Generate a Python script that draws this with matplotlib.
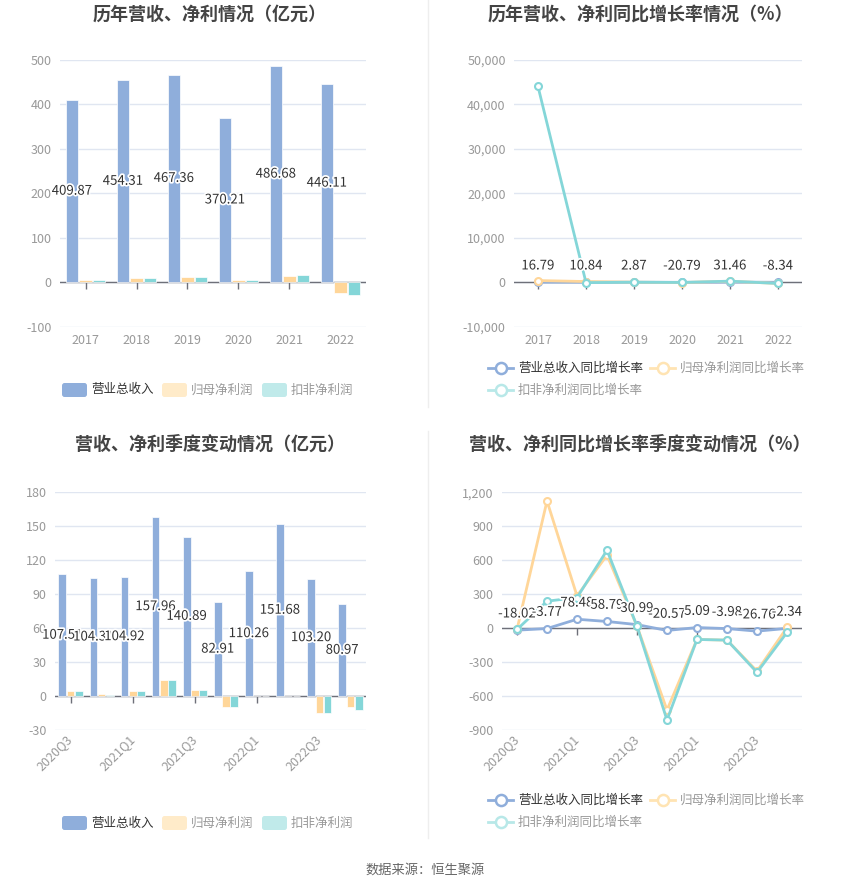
import numpy as np
import matplotlib.pyplot as plt
from matplotlib import patheffects
from matplotlib.patches import FancyBboxPatch
from matplotlib.lines import Line2D
from matplotlib.ticker import FuncFormatter

plt.rcParams['font.family'] = ['Noto Sans CJK SC', 'DejaVu Sans']

# annual data (亿元 / %)
years = ['2017', '2018', '2019', '2020', '2021', '2022']
revenue = [409.87, 454.31, 467.36, 370.21, 486.68, 446.11]
net_profit = [4.0, 10.5, 12.0, 4.5, 14.5, -25.0]
deducted = [4.5, 9.5, 11.5, 4.5, 15.5, -28.0]
revenue_yoy = [16.79, 10.84, 2.87, -20.79, 31.46, -8.34]
net_yoy = [380, 160, 15, -60, 220, -270]
deducted_yoy = [44050, -80, 10, -50, 250, -280]

# quarterly data
quarters = ['2020Q3', '2020Q4', '2021Q1', '2021Q2', '2021Q3',
            '2021Q4', '2022Q1', '2022Q2', '2022Q3', '2022Q4']
q_revenue = [107.51, 104.31, 104.92, 157.96, 140.89, 82.91, 110.26, 151.68, 103.20, 80.97]
q_net_profit = [4.4, 1.7, 4.6, 14.6, 5.5, -9.9, 0.2, 0.3, -14.6, -9.3]
q_deducted = [4.4, 1.2, 4.8, 14.6, 5.2, -9.3, 0.1, -0.3, -14.9, -12.5]
q_revenue_yoy = [-18.02, -3.77, 78.48, 58.79, 30.99, -20.57, 5.09, -3.98, -26.76, -2.34]
q_net_yoy = [-12, 1123, 285, 644, 18, -723, -100, -106, -380, 6]
q_deducted_yoy = [-12, 238, 270, 688, 18, -812, -100, -106, -391, -38]

BLUE = '#8FAEDB'
ORANGE = '#FFD699'
TEAL = '#84D6D8'
LIGHT_ORANGE = '#FFEBC9'
LIGHT_TEAL = '#C0EAEA'
GRID = '#E0E6F1'
AXIS = '#6E7079'

W, H = 850, 891
fig = plt.figure(figsize=(W / 100, H / 100), dpi=100)
fig.patch.set_facecolor('white')


def px_axes(left, top, right, bottom):
    return fig.add_axes([left / W, 1 - bottom / H, (right - left) / W, (bottom - top) / H])


def base_style(ax, n, ylim, yticks, fmt):
    ax.set_xlim(-0.5, n - 0.5)
    ax.set_ylim(ylim)
    ax.set_yticks(yticks)
    ax.yaxis.set_major_formatter(FuncFormatter(fmt))
    for s in ax.spines.values():
        s.set_visible(False)
    ax.grid(axis='y', color=GRID, lw=1)
    ax.set_axisbelow(True)
    ax.axhline(0, color=AXIS, lw=1, zorder=2)
    ax.tick_params(axis='y', length=0, pad=6, labelcolor='#999999', labelsize=9)
    ax.tick_params(axis='x', length=0, labelcolor='#999999', labelsize=9)


def zero_ticks(ax, positions):
    ax.plot(positions, np.zeros(len(positions)), ls='none', marker=3, ms=5,
            mec=AXIS, mew=1, zorder=2, clip_on=False)


stroke = [patheffects.withStroke(linewidth=2.5, foreground='white')]
thousands = lambda v, p: f'{int(v):,}'

# ---- panel 1: annual bars
ax1 = px_axes(60, 60, 366, 326.7)
x = np.arange(len(years))
off, bw = 0.265, 0.245
ax1.bar(x - off, revenue, bw, color=BLUE, ec='white', lw=0.5, zorder=3)
ax1.bar(x, net_profit, bw, color=ORANGE, ec='white', lw=0.5, zorder=3)
ax1.bar(x + off, deducted, bw, color=TEAL, ec='white', lw=0.5, zorder=3)
base_style(ax1, len(years), (-100, 500), np.arange(-100, 501, 100), thousands)
ax1.set_xticks(x, years)
ax1.tick_params(axis='x', pad=5)
zero_ticks(ax1, x)
for i, v in enumerate(revenue):
    ax1.text(i - off, v / 2, f'{v:.2f}', ha='center', va='center', fontsize=9.5,
             color='#333333', path_effects=stroke, zorder=5)

# ---- panel 2: annual growth lines
ax2 = px_axes(514, 60, 802, 326.7)
ax2.plot(x, revenue_yoy, color=BLUE, lw=2, marker='o', ms=5, mfc='white', mew=1.5, zorder=3)
ax2.plot(x, net_yoy, color=ORANGE, lw=2, marker='o', ms=5, mfc='white', mew=1.5, zorder=3)
ax2.plot(x, deducted_yoy, color=TEAL, lw=2, marker='o', ms=5, mfc='white', mew=1.5, zorder=4)
base_style(ax2, len(years), (-10000, 50000), np.arange(-10000, 50001, 10000), thousands)
ax2.set_xticks(x, years)
ax2.tick_params(axis='x', pad=5)
zero_ticks(ax2, x)
for i, v in enumerate(revenue_yoy):
    ax2.annotate(f'{v:.2f}', (i, v), xytext=(0, 7), textcoords='offset points',
                 ha='center', va='bottom', fontsize=9.5, color='#333333',
                 path_effects=stroke, zorder=5)

# ---- panel 3: quarterly bars
ax3 = px_axes(55, 492.3, 366, 730)
xq = np.arange(len(quarters))
ax3.bar(xq - off, q_revenue, bw, color=BLUE, ec='white', lw=0.5, zorder=3)
ax3.bar(xq, q_net_profit, bw, color=ORANGE, ec='white', lw=0.5, zorder=3)
ax3.bar(xq + off, q_deducted, bw, color=TEAL, ec='white', lw=0.5, zorder=3)
base_style(ax3, len(quarters), (-30, 180), np.arange(-30, 181, 30), thousands)
ax3.set_xticks(xq[::2], quarters[::2], rotation=45, ha='right', va='center',
               rotation_mode='anchor')
ax3.tick_params(axis='x', pad=5)
zero_ticks(ax3, xq[::2])
for i, v in enumerate(q_revenue):
    ax3.text(i - off, v / 2, f'{v:.2f}', ha='center', va='center', fontsize=9.5,
             color='#333333', path_effects=stroke, zorder=5)

# ---- panel 4: quarterly growth lines
ax4 = px_axes(502, 492.3, 802, 730)
ax4.plot(xq, q_revenue_yoy, color=BLUE, lw=2, marker='o', ms=5, mfc='white', mew=1.5, zorder=3)
ax4.plot(xq, q_net_yoy, color=ORANGE, lw=2, marker='o', ms=5, mfc='white', mew=1.5, zorder=3)
ax4.plot(xq, q_deducted_yoy, color=TEAL, lw=2, marker='o', ms=5, mfc='white', mew=1.5, zorder=4)
base_style(ax4, len(quarters), (-900, 1200), np.arange(-900, 1201, 300), thousands)
ax4.set_xticks(xq[::2], quarters[::2], rotation=45, ha='right', va='center',
               rotation_mode='anchor')
ax4.tick_params(axis='x', pad=5)
zero_ticks(ax4, xq[::2])
for i, v in enumerate(q_revenue_yoy):
    ax4.annotate(f'{v:.2f}', (i, v), xytext=(0, 7), textcoords='offset points',
                 ha='center', va='bottom', fontsize=9.5, color='#333333',
                 path_effects=stroke, zorder=5)

# ---- titles
titles = [(210, 14, '历年营收、净利情况（亿元）'),
          (640, 14, '历年营收、净利同比增长率情况（%）'),
          (210, 444, '营收、净利季度变动情况（亿元）'),
          (640, 444, '营收、净利同比增长率季度变动情况（%）')]
for tx, ty, t in titles:
    fig.text(tx / W, 1 - ty / H, t, ha='center', va='center', fontsize=13,
             fontweight='bold', color='#444444')


# ---- legends
def bar_legend(y):
    items = [(62, BLUE, '营业总收入', '#333333'),
             (162, LIGHT_ORANGE, '归母净利润', '#999999'),
             (262, LIGHT_TEAL, '扣非净利润', '#999999')]
    for lx, c, label, tc in items:
        fig.patches.append(FancyBboxPatch((lx / W, 1 - (y + 7) / H), 25 / W, 14 / H,
                                          boxstyle='round,pad=0,rounding_size=0.003',
                                          transform=fig.transFigure, fc=c, ec='none'))
        fig.text((lx + 29) / W, 1 - y / H, label, ha='left', va='center',
                 fontsize=9, color=tc)


def line_legend(y1, y2):
    items = [(488, y1, BLUE, '营业总收入同比增长率', '#333333'),
             (650, y1, '#FFE4B3', '归母净利润同比增长率', '#999999'),
             (488, y2, '#B8E8E8', '扣非净利润同比增长率', '#999999')]
    for lx, ly, c, label, tc in items:
        yy = 1 - ly / H
        fig.add_artist(Line2D([lx / W, (lx + 25) / W], [yy, yy], color=c, lw=2))
        fig.add_artist(Line2D([(lx + 12.5) / W], [yy], marker='o', ms=8,
                              mfc='white', mec=c, mew=1.8))
        fig.text((lx + 30) / W, yy, label, ha='left', va='center', fontsize=9, color=tc)


bar_legend(390)
line_legend(368, 390)
bar_legend(823)
line_legend(800, 822)

# separators
fig.add_artist(Line2D([428 / W, 428 / W], [1, 1 - 407 / H], color='#EEEEEE', lw=1))
fig.add_artist(Line2D([428 / W, 428 / W], [1 - 431 / H, 1 - 838 / H], color='#EEEEEE', lw=1))

fig.text(425 / W, 1 - 870 / H, '数据来源：恒生聚源', ha='center', va='center',
         fontsize=9.5, color='#666666')

fig.savefig('out.png', dpi=100, facecolor='white')
